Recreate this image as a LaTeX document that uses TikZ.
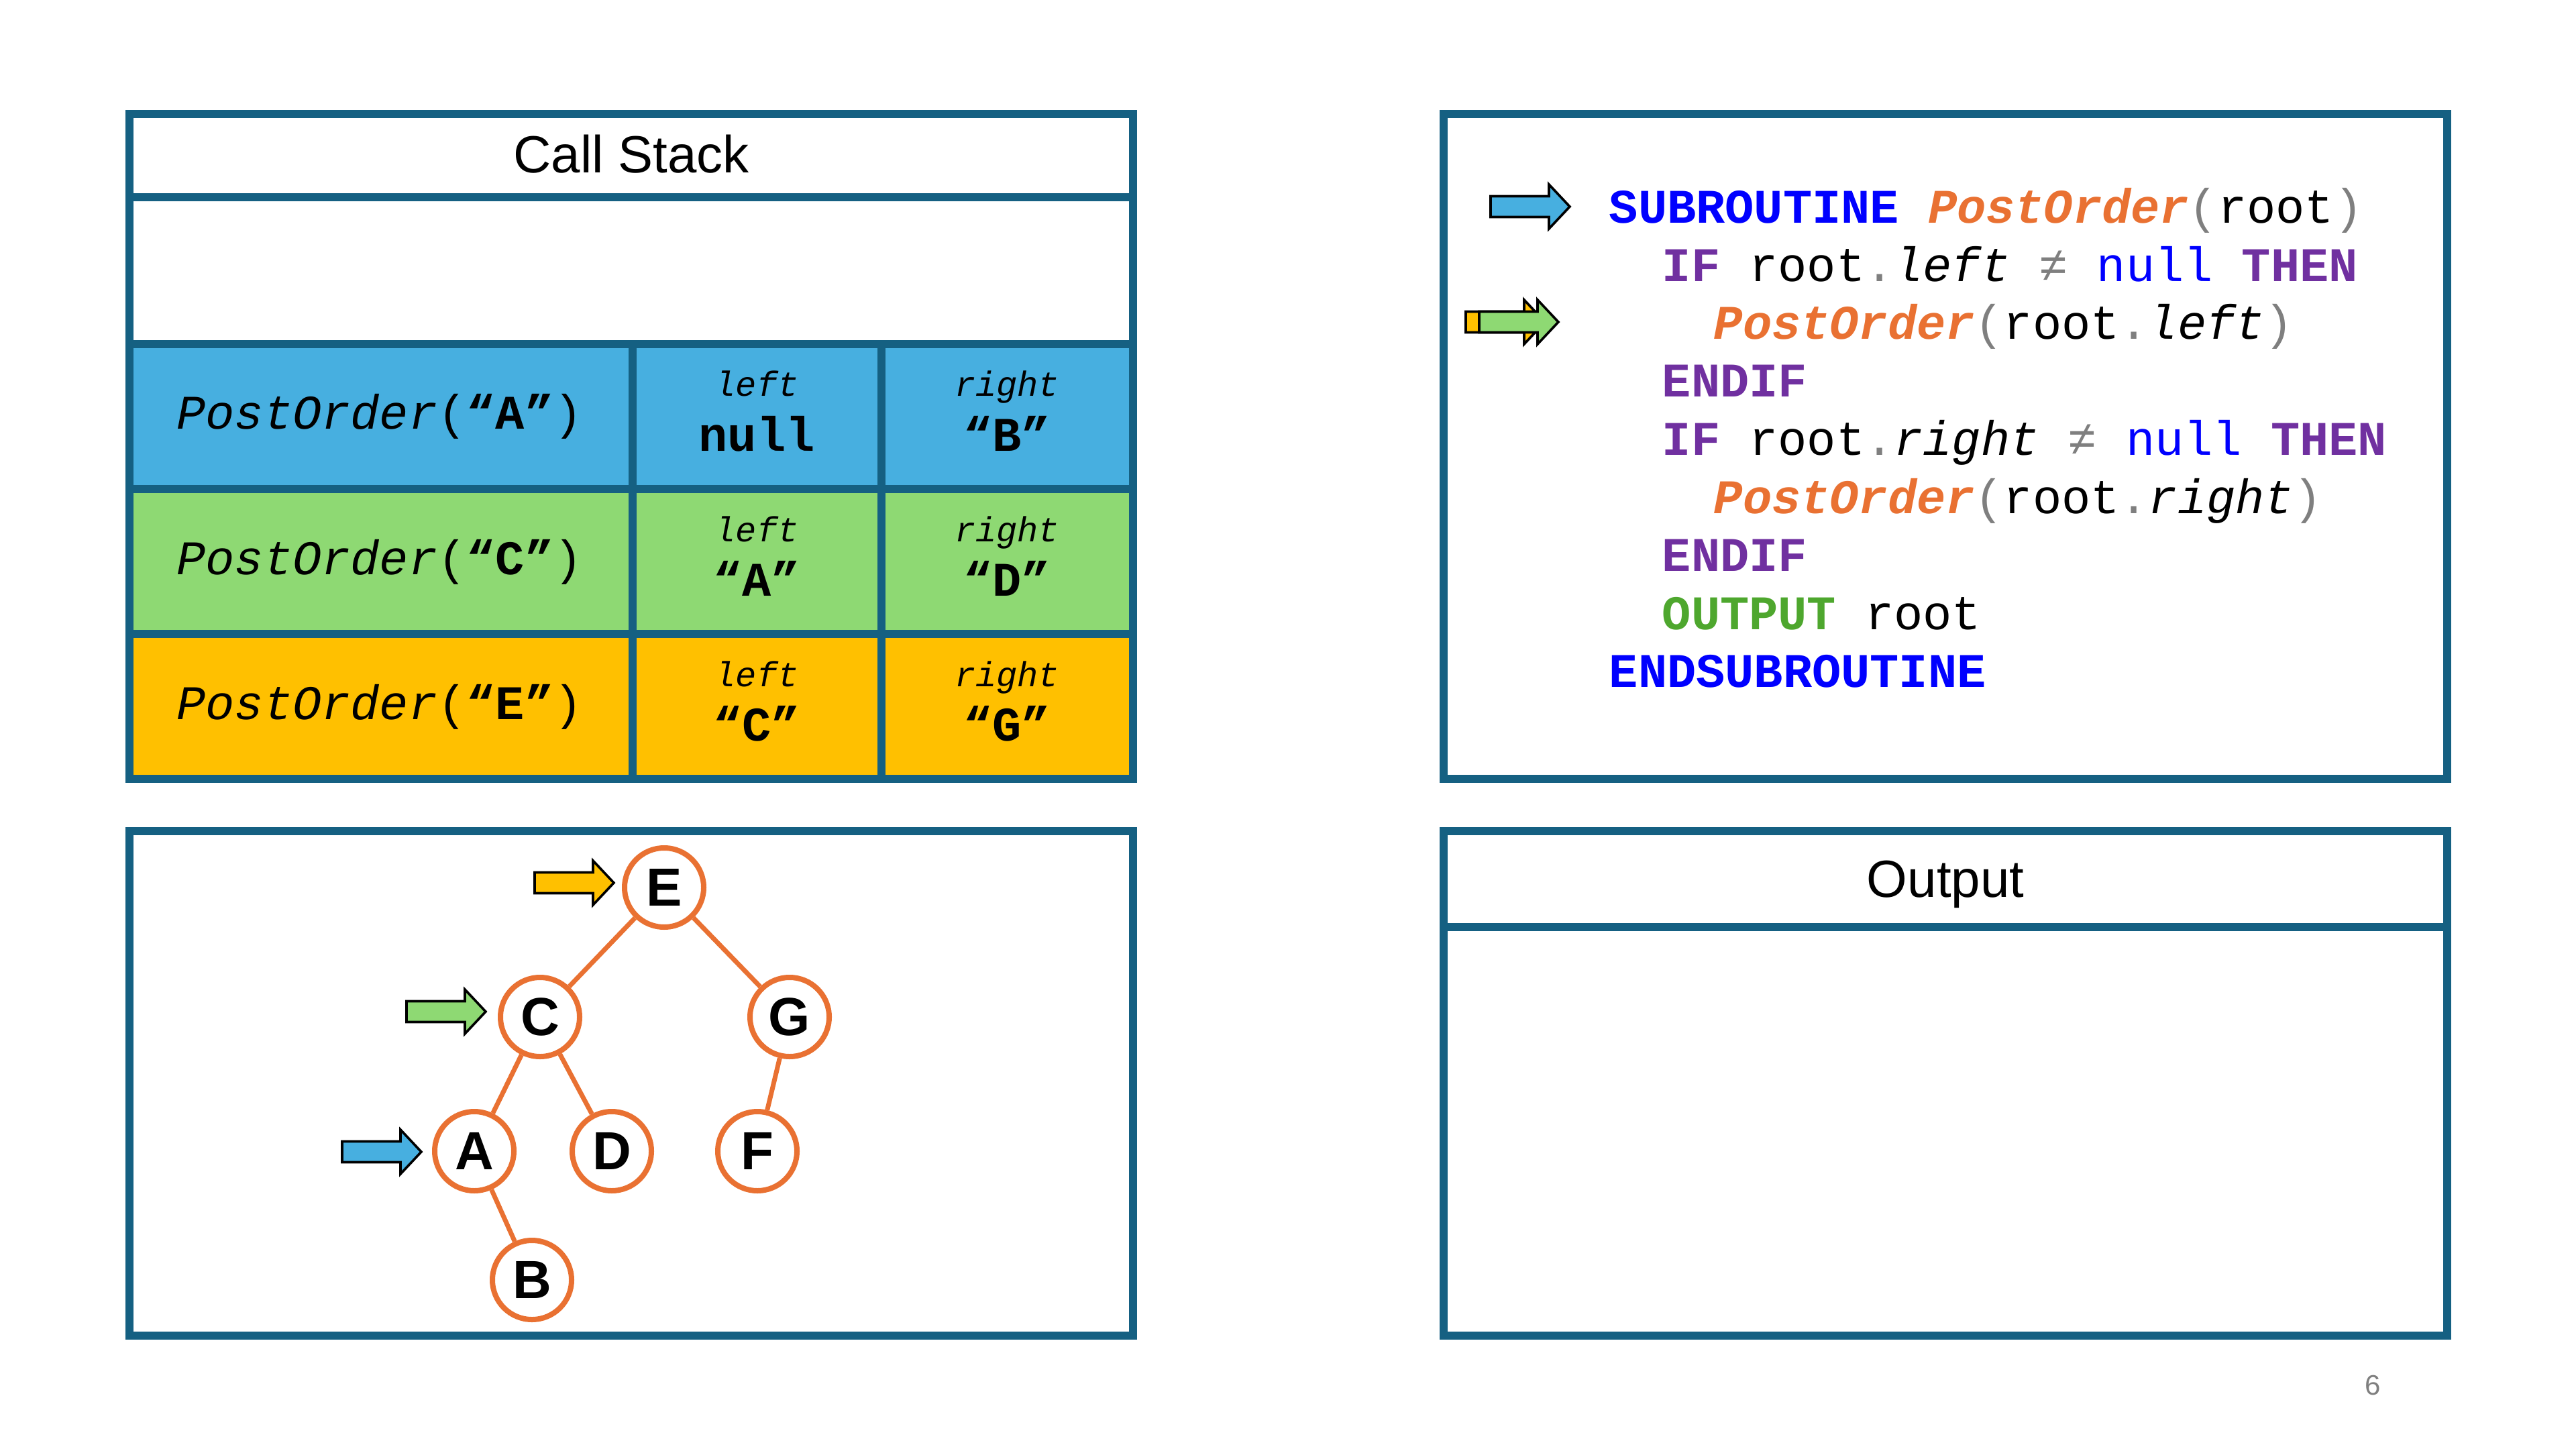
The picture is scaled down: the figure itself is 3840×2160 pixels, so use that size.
\documentclass[tikz,border=0pt]{standalone}
\usepackage{fontspec}
\setmainfont{Liberation Sans}
\newfontfamily\codefont{Liberation Mono}
\definecolor{framecol}{HTML}{156082}
\definecolor{cellblue}{HTML}{47AFE0}
\definecolor{cellgreen}{HTML}{8ED973}
\definecolor{cellyellow}{HTML}{FFC000}
\definecolor{treeorange}{HTML}{E97132}
\definecolor{kwblue}{HTML}{0000FF}
\definecolor{kwpurple}{HTML}{7030A0}
\definecolor{kwgreen}{HTML}{4EA72E}
\definecolor{punctgray}{HTML}{7F7F7F}
\newcommand\kwB[1]{\textcolor{kwblue}{\bfseries #1}}
\newcommand\kwP[1]{\textcolor{kwpurple}{\bfseries #1}}
\newcommand\kwG[1]{\textcolor{kwgreen}{\bfseries #1}}
\newcommand\fnO[1]{\textcolor{treeorange}{\bfseries\itshape #1}}
\newcommand\pg[1]{\textcolor{punctgray}{#1}}
\newcommand\nullB{\textcolor{kwblue}{null}}
\begin{document}
\begin{tikzpicture}[x=0.25pt,y=-0.25pt,
  frame/.style={draw=framecol, line width=3pt, line join=miter},
  codeline/.style={anchor=base west, inner sep=0pt, font=\codefont\fontsize{18pt}{21.6pt}\selectfont},
  cellmain/.style={anchor=base, inner sep=0pt, font=\codefont\fontsize{18pt}{21.6pt}\selectfont},
  celllabel/.style={anchor=base, inner sep=0pt, font=\codefont\itshape\fontsize{13pt}{15pt}\selectfont},
  cellvalue/.style={anchor=base, inner sep=0pt, font=\codefont\bfseries\fontsize{18pt}{21.6pt}\selectfont},
  title/.style={anchor=base, inner sep=0pt, font=\fontsize{19.5pt}{23pt}\selectfont},
  tnode/.style={circle, draw=treeorange, line width=2pt, fill=white, minimum size=29.5pt, inner sep=0pt,
    font=\bfseries\fontsize{20pt}{24pt}\selectfont},
  tedge/.style={draw=treeorange, line width=1.75pt},
  pointerline/.style={draw=black, line width=0.9pt, line join=miter},
  pics/pointer/.style={code={
    \draw[pointerline, fill=#1] (0,-15.5) -- (87,-15.5) -- (87,-33) -- (118,0)
      -- (87,33) -- (87,15.5) -- (0,15.5) -- cycle;}}
]
\useasboundingbox (0,0) rectangle (3840,2160);

% ---------- call stack ----------
\fill[cellblue]   (193,513) rectangle (1689,729);
\fill[cellgreen]  (193,729) rectangle (1689,945);
\fill[cellyellow] (193,945) rectangle (1689,1161);
\draw[frame] (193,294) -- (1689,294);
\draw[frame] (193,513) -- (1689,513);
\draw[frame] (193,729) -- (1689,729);
\draw[frame] (193,945) -- (1689,945);
\draw[frame] (943,513) -- (943,1161);
\draw[frame] (1314,513) -- (1314,1161);
\draw[frame] (193,170) rectangle (1689,1161);
\node[title] (stacktitle) at (941,258) {Call Stack};

\node[cellmain] (callA) at (566,640) {\textit{PostOrder}(\textbf{“A”})};
\node[celllabel] (leftA) at (1128,591) {left};
\node[cellvalue] (valLA) at (1128,672) {null};
\node[celllabel] (rightA) at (1501,591) {right};
\node[cellvalue] (valRA) at (1501,672) {“B”};

\node[cellmain] (callC) at (566,856) {\textit{PostOrder}(\textbf{“C”})};
\node[celllabel] (leftC) at (1128,807) {left};
\node[cellvalue] (valLC) at (1128,888) {“A”};
\node[celllabel] (rightC) at (1501,807) {right};
\node[cellvalue] (valRC) at (1501,888) {“D”};

\node[cellmain] (callE) at (566,1072) {\textit{PostOrder}(\textbf{“E”})};
\node[celllabel] (leftE) at (1128,1023) {left};
\node[cellvalue] (valLE) at (1128,1104) {“C”};
\node[celllabel] (rightE) at (1501,1023) {right};
\node[cellvalue] (valRE) at (1501,1104) {“G”};

% ---------- pseudocode ----------
\draw[frame] (2152,170) rectangle (3648,1161);
\node[codeline] (l1) at (2398,333) {\kwB{SUBROUTINE} \fnO{PostOrder}\pg{(}root\pg{)}};
\node[codeline] (l2) at (2477,420) {\kwP{IF} root\pg{.}\textit{left} \pg{≠} \nullB{} \kwP{THEN}};
\node[codeline] (l3) at (2554,506) {\fnO{PostOrder}\pg{(}root\pg{.}\textit{left}\pg{)}};
\node[codeline] (l4) at (2477,592) {\kwP{ENDIF}};
\node[codeline] (l5) at (2477,679) {\kwP{IF} root\pg{.}\textit{right} \pg{≠} \nullB{} \kwP{THEN}};
\node[codeline] (l6) at (2554,765) {\fnO{PostOrder}\pg{(}root\pg{.}\textit{right}\pg{)}};
\node[codeline] (l7) at (2477,851) {\kwP{ENDIF}};
\node[codeline] (l8) at (2477,938) {\kwG{OUTPUT} root};
\node[codeline] (l9) at (2398,1024) {\kwB{ENDSUBROUTINE}};

\pic (codeptrA) at (2222,308) {pointer=cellblue};
\pic (codeptrE) at (2185,480) {pointer=cellyellow};
\pic (codeptrC) at (2205,480) {pointer=cellgreen};

% ---------- tree ----------
\draw[frame] (193,1239) rectangle (1689,1991);
\node[tnode] (E) at (990,1323) {E};
\node[tnode] (C) at (805,1516) {C};
\node[tnode] (G) at (1177,1516) {G};
\node[tnode] (A) at (707,1716) {A};
\node[tnode] (D) at (912,1716) {D};
\node[tnode] (F) at (1129,1716) {F};
\node[tnode] (B) at (793,1908) {B};
\draw[tedge] (E) -- (C);
\draw[tedge] (E) -- (G);
\draw[tedge] (C) -- (A);
\draw[tedge] (C) -- (D);
\draw[tedge] (G) -- (F);
\draw[tedge] (A) -- (B);

\pic (treeptrE) at (797,1316) {pointer=cellyellow};
\pic (treeptrC) at (606,1508) {pointer=cellgreen};
\pic (treeptrA) at (510,1717) {pointer=cellblue};

% ---------- output ----------
\draw[frame] (2152,1382) -- (3648,1382);
\draw[frame] (2152,1239) rectangle (3648,1991);
\node[title] (outtitle) at (2900,1337) {Output};

\node[anchor=center, inner sep=0pt, text=punctgray, font=\fontsize{10.5pt}{12pt}\selectfont] (pagenum) at (3537,2065) {6};
\end{tikzpicture}
\end{document}
